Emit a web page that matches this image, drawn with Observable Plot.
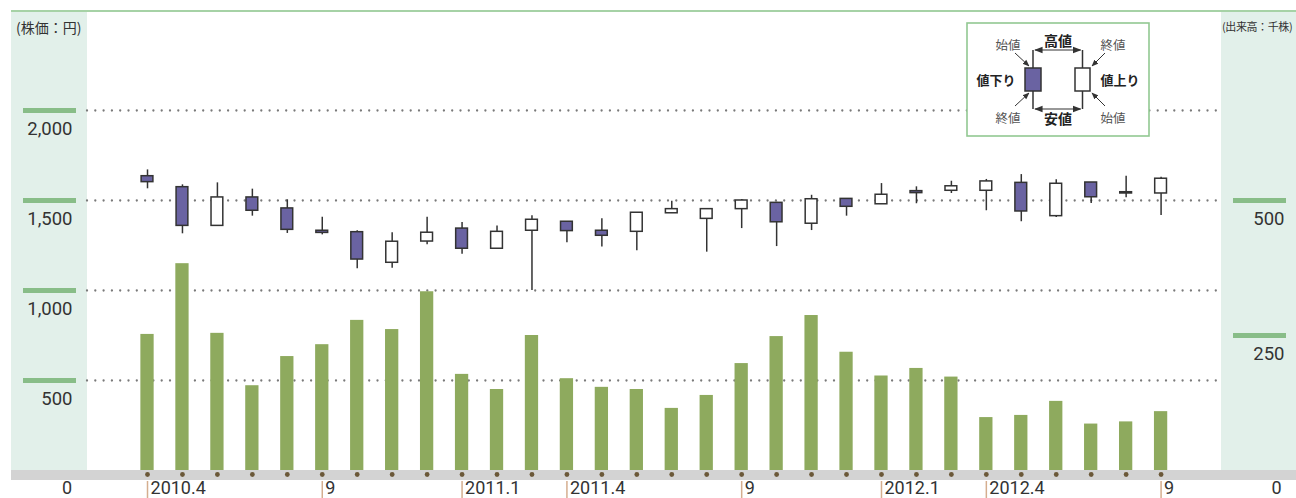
<!DOCTYPE html>
<html><head><meta charset="utf-8">
<script src="https://cdn.jsdelivr.net/npm/d3@7"></script>
<script src="https://cdn.jsdelivr.net/npm/@observablehq/plot@0.6"></script>
<style>
body{margin:0;background:#fff;}
#wrap{position:relative;width:1296px;height:498px;overflow:hidden;font-family:Roboto,"Noto Sans CJK JP",sans-serif;}
.abs{position:absolute;}
.ttl{position:absolute;font-family:"Noto Sans CJK JP",sans-serif;color:#333;white-space:nowrap;line-height:1;}
</style></head><body>
<div id="wrap">
  <div class="abs" style="left:11px;top:11px;width:76px;height:459px;background:#e2f0ea"></div>
  <div class="abs" style="left:1221px;top:11px;width:75px;height:459px;background:#e2f0ea"></div>
  <div class="abs" style="left:11px;top:10px;width:1285px;height:1.5px;background:#a6d2a6"></div>
  <div class="abs" style="left:11px;top:470px;width:1285px;height:10px;background:#d3d3d3"></div>
  <div class="ttl" style="left:16px;top:20px;font-size:14px;">(株価：円)</div>
  <div class="ttl" style="left:1222px;top:21px;font-size:11px;letter-spacing:-0.4px;">(出来高：千株)</div>
</div>
<script>
// ---- data ----
const months = ["2010.4","2010.5","2010.6","2010.7","2010.8","2010.9","2010.10","2010.11","2010.12",
  "2011.1","2011.2","2011.3","2011.4","2011.5","2011.6","2011.7","2011.8","2011.9","2011.10","2011.11","2011.12",
  "2012.1","2012.2","2012.3","2012.4","2012.5","2012.6","2012.7","2012.8","2012.9"];
const openPrice  = [1635,1574,1359,1517,1456,1332,1324,1154,1272,1344,1232,1332,1382,1332,1326,1429,1398,1452,1487,1371,1509,1479,1552,1554,1554,1598,1413,1600,1546,1539];
const closePrice = [1602,1359,1517,1443,1337,1320,1172,1271,1321,1232,1326,1393,1330,1304,1432,1452,1452,1500,1379,1507,1465,1532,1541,1579,1606,1439,1593,1518,1539,1621];
const highPrice  = [1670,1587,1598,1563,1504,1407,1332,1321,1407,1378,1359,1415,1382,1398,1432,1496,1452,1505,1490,1529,1509,1594,1576,1607,1617,1644,1615,1600,1635,1629];
const lowPrice   = [1565,1315,1359,1413,1317,1309,1121,1124,1254,1202,1232,1000,1265,1241,1221,1429,1213,1344,1244,1333,1413,1479,1482,1539,1443,1382,1406,1483,1515,1417];
const volume     = [252,383,254,157,211,233,278,261,331,178,150,250,170,154,150,115,139,198,248,287,219,175,189,173,98,102,128,86,90,109];
const tickMonths = ["2010.4","2010.9","2011.1","2011.4","2011.9","2012.1","2012.4","2012.9"];
const priceTicks = [500,1000,1500,2000];
const volumeTicks = [250,500];

const data = months.map((m,i)=>({month:m, open:openPrice[i], close:closePrice[i], high:highPrice[i], low:lowPrice[i], volume:volume[i]}));

const GREEN_TICK = "#88bd88";
const PURPLE = "#6a63a2";
const NARROW = "'Liberation Sans Narrow', 'Roboto', sans-serif";

const xScale = {type:"band", domain: months, range:[118.7,1188.9], padding:0.62, round:false, label:null};
const common = {width:1296, height:498, marginLeft:87, marginRight:75, marginTop:11, marginBottom:28,
  style:"position:absolute;left:0;top:0;background:transparent;overflow:visible;"};

const price = Plot.plot({
  ...common,
  x: {...xScale, axis:null},
  y: {domain:[0,2000], range:[470,110], label:null},
  marks: [
    Plot.gridY(priceTicks, {stroke:"#7a7a7a", strokeOpacity:1, strokeWidth:2.3, strokeDasharray:"0 8.3", strokeLinecap:"round"}),
    Plot.axisY(priceTicks, {anchor:"left", tickSize:53, dx:-11, stroke:GREEN_TICK, strokeWidth:5, fill:"none", label:null}),
    Plot.axisY(priceTicks, {anchor:"left", tickSize:0, tickPadding:15, dy:18.5, fill:"#333", fontSize:18.5, fontFamily:"Roboto", tickFormat:d3.format(","), label:null}),
    Plot.axisY([0], {anchor:"left", tickSize:0, tickPadding:15.5, dy:18, fill:"#333", fontSize:18, fontFamily:NARROW, label:null}),
    Plot.ruleX(data, {x:"month", y1:"low", y2:"high", stroke:"#333", strokeWidth:1.5}),
    Plot.barY(data, {x:"month", y1:"open", y2:"close", fill:d => d.close < d.open ? PURPLE : "#fff",
      stroke:"#333", strokeWidth:1.5, insetLeft:0.75, insetRight:0.75})
  ]
});

const vol = Plot.plot({
  ...common,
  x: xScale,
  y: {domain:[0,500], range:[470,200], label:null},
  marks: [
    Plot.barY(data, {x:"month", y:"volume", fill:"#8eaa5e"}),
    Plot.dot(data, {x:"month", frameAnchor:"bottom", dy:4, r:2.4, fill:"#6b5838"}),
    Plot.axisX(tickMonths, {anchor:"bottom", tickSize:17, dy:11, stroke:"#d5ae8f", strokeWidth:1.5, fill:"none", label:null}),
    Plot.axisX(tickMonths, {anchor:"bottom", tickSize:0, tickPadding:0, dy:18, dx:3, textAnchor:"start", lineAnchor:"middle",
      tickFormat:d => d.endsWith(".9") ? "9" : d, fontSize:18, fontFamily:NARROW, fill:"#333", label:null}),
    Plot.axisY(volumeTicks, {anchor:"right", tickSize:53, dx:11, stroke:GREEN_TICK, strokeWidth:5, fill:"none", label:null}),
    Plot.axisY(volumeTicks, {anchor:"right", tickSize:0, tickPadding:63, dy:18.5, textAnchor:"end", fill:"#333", fontSize:18.5, fontFamily:"Roboto", label:null}),
    Plot.axisY([0], {anchor:"right", tickSize:0, tickPadding:60, dy:18, textAnchor:"end", fill:"#333", fontSize:18, fontFamily:NARROW, label:null})
  ]
});

const wrap = document.getElementById("wrap");
wrap.appendChild(price);
wrap.appendChild(vol);

// ---- legend (explanatory key) ----
const legend = `
<svg width="186" height="117" style="position:absolute;left:966px;top:22px" font-family="'Noto Sans CJK JP',sans-serif">
  <defs>
    <marker id="ah" viewBox="0 0 10 10" refX="9" refY="5" markerWidth="7" markerHeight="7" orient="auto-start-reverse">
      <path d="M0,1 L10,5 L0,9 z" fill="#333"/>
    </marker>
  </defs>
  <rect x="1" y="1" width="182" height="113" fill="#fff" stroke="#92c892" stroke-width="1.6"/>
  <line x1="67" y1="28" x2="67" y2="87" stroke="#333" stroke-width="1.5"/>
  <rect x="59" y="46" width="16" height="23" fill="${PURPLE}" stroke="#333" stroke-width="1.5"/>
  <line x1="116.5" y1="28" x2="116.5" y2="87" stroke="#333" stroke-width="1.5"/>
  <rect x="109" y="46" width="15" height="23" fill="#fff" stroke="#333" stroke-width="1.5"/>
  <line x1="69" y1="28" x2="114.5" y2="28" stroke="#333" stroke-width="1.2" marker-start="url(#ah)" marker-end="url(#ah)"/>
  <line x1="69" y1="87" x2="114.5" y2="87" stroke="#333" stroke-width="1.2" marker-start="url(#ah)" marker-end="url(#ah)"/>
  <g text-anchor="middle" dominant-baseline="central">
    <text x="92" y="18" font-size="14" font-weight="bold" fill="#222">高値</text>
    <text x="92" y="96" font-size="14" font-weight="bold" fill="#222">安値</text>
    <text x="42" y="22" font-size="12.5" fill="#555">始値</text>
    <text x="42" y="95" font-size="12.5" fill="#555">終値</text>
    <text x="147" y="22" font-size="12.5" fill="#555">終値</text>
    <text x="147" y="95" font-size="12.5" fill="#555">始値</text>
    <text x="30" y="57" font-size="13" font-weight="bold" fill="#222">値下り</text>
    <text x="154" y="57" font-size="13" font-weight="bold" fill="#222">値上り</text>
  </g>
  <line x1="49" y1="31" x2="63" y2="44" stroke="#333" stroke-width="1" marker-end="url(#ah)"/>
  <line x1="49" y1="84" x2="63" y2="71" stroke="#333" stroke-width="1" marker-end="url(#ah)"/>
  <line x1="139" y1="31" x2="126" y2="44" stroke="#333" stroke-width="1" marker-end="url(#ah)"/>
  <line x1="139" y1="84" x2="126" y2="71" stroke="#333" stroke-width="1" marker-end="url(#ah)"/>
</svg>`;
wrap.insertAdjacentHTML("beforeend", legend);
</script>
</body></html>
